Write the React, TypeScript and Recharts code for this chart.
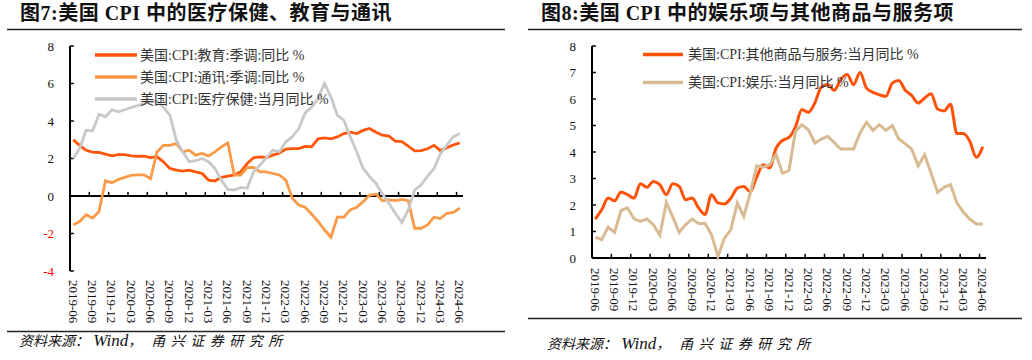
import React from 'react';
import { LineChart, Line, XAxis, YAxis, ReferenceLine } from 'recharts';

const months = [
  '2019-06', '2019-07', '2019-08', '2019-09', '2019-10', '2019-11', '2019-12',
  '2020-01', '2020-02', '2020-03', '2020-04', '2020-05', '2020-06', '2020-07', '2020-08', '2020-09', '2020-10', '2020-11', '2020-12',
  '2021-01', '2021-02', '2021-03', '2021-04', '2021-05', '2021-06', '2021-07', '2021-08', '2021-09', '2021-10', '2021-11', '2021-12',
  '2022-01', '2022-02', '2022-03', '2022-04', '2022-05', '2022-06', '2022-07', '2022-08', '2022-09', '2022-10', '2022-11', '2022-12',
  '2023-01', '2023-02', '2023-03', '2023-04', '2023-05', '2023-06', '2023-07', '2023-08', '2023-09', '2023-10', '2023-11', '2023-12',
  '2024-01', '2024-02', '2024-03', '2024-04', '2024-05', '2024-06',
];

// 图7 series
const eduYoY = [
  3.0, 2.7, 2.44, 2.34, 2.32, 2.23, 2.14, 2.21, 2.21, 2.14,
  2.12, 2.12, 2.05, 2.09, 1.82, 1.47, 1.38, 1.33, 1.38, 1.29,
  1.2, 0.85, 0.8, 1.0, 1.06, 1.12, 1.29, 1.73, 2.04, 2.09,
  2.05, 2.18, 2.3, 2.5, 2.53, 2.53, 2.65, 2.62, 3.05, 3.1,
  3.05, 3.15, 3.33, 3.4, 3.33, 3.5, 3.6, 3.4, 3.24, 3.19,
  2.93, 2.9, 2.66, 2.41, 2.42, 2.52, 2.7, 2.42, 2.58, 2.72,
  2.83,
];
const commYoY = [
  -1.54, -1.36, -1.0, -1.18, -0.83, 0.81, 0.71, 0.88, 0.99, 1.1,
  1.13, 1.13, 0.92, 2.35, 2.7, 2.7, 2.8, 2.35, 2.44, 2.18,
  2.27, 2.14, 2.35, 2.62, 2.83, 1.12, 1.12, 1.52, 1.52, 1.29,
  1.29, 1.2, 1.12, 0.85, -0.12, -0.48, -0.6, -0.96, -1.36, -1.8,
  -2.2, -1.13, -1.13, -0.74, -0.6, -0.3, 0.05, 0.1, -0.25, -0.21,
  -0.25, -0.18, -0.25, -1.72, -1.72, -1.54, -1.13, -1.2, -0.92, -0.88,
  -0.65,
];
const medYoY = [
  2.0, 2.54, 3.51, 3.47, 4.36, 4.22, 4.6, 4.49, 4.6, 4.72,
  4.82, 4.93, 5.0, 5.07, 4.75, 4.31, 2.98, 2.36, 1.83, 1.88,
  2.0, 1.83, 1.47, 0.85, 0.35, 0.32, 0.46, 0.41, 1.29, 1.65,
  2.05, 2.45, 2.36, 2.89, 3.16, 3.6, 4.43, 4.75, 5.2, 6.0,
  5.28, 4.31, 4.04, 3.16, 2.36, 1.47, 1.03, 0.67, 0.1, -0.39,
  -0.92, -1.42, -0.74, 0.32, 0.59, 1.06, 1.47, 2.27, 2.71, 3.16,
  3.33,
];

// 图8 series
const otherYoY = [
  1.47, 1.82, 2.26, 2.16, 2.49, 2.39, 2.26, 2.8, 2.67, 2.89,
  2.77, 2.39, 2.8, 2.7, 2.2, 2.26, 1.89, 1.64, 2.39, 2.08,
  2.04, 2.26, 2.64, 2.7, 2.5, 3.05, 3.52, 3.4, 4.15, 4.44,
  4.55, 4.95, 5.6, 5.5, 5.85, 6.45, 6.55, 6.33, 6.73, 6.92,
  6.54, 7.0, 6.41, 6.25, 6.16, 6.1, 6.6, 6.7, 6.33, 6.13,
  5.85, 6.04, 6.2, 5.62, 5.55, 5.8, 4.7, 4.7, 4.4, 3.8,
  4.2,
];
const recYoY = [
  0.79, 0.69, 1.17, 0.97, 1.8, 1.89, 1.48, 1.38, 1.47, 1.26,
  0.86, 2.1, 1.55, 0.97, 1.26, 1.47, 1.3, 1.3, 0.88, 0.06,
  0.75, 1.07, 2.08, 1.57, 2.45, 3.48, 3.43, 3.52, 3.9, 3.2,
  3.3, 4.78, 5.03, 4.84, 4.34, 4.49, 4.59, 4.36, 4.11, 4.11,
  4.11, 4.72, 5.12, 4.82, 5.03, 4.82, 5.0, 4.49, 4.31, 4.11,
  3.48, 3.9, 3.2, 2.48, 2.67, 2.77, 2.08, 1.72, 1.47, 1.28,
  1.28,
];

// tick labels (month index) and axis tick marks (between categories)
const labelIdx = [0, 3, 6, 9, 12, 15, 18, 21, 24, 27, 30, 33, 36, 39, 42, 45, 48, 51, 54, 57, 60];
const tickMarks = [2.5, 5.5, 8.5, 11.5, 14.5, 17.5, 20.5, 23.5, 26.5, 29.5, 32.5, 35.5, 38.5, 41.5, 44.5, 47.5, 50.5, 53.5, 56.5, 59.5];
const leftYTicks = [-4, -2, 0, 2, 4, 6, 8];
const rightYTicks = [0, 1, 2, 3, 4, 5, 6, 7, 8];

const leftSeries = [
  { key: 'edu', name: '美国:CPI:教育:季调:同比 %', color: '#FF560A' },
  { key: 'comm', name: '美国:CPI:通讯:季调:同比 %', color: '#FA9A48' },
  { key: 'med', name: '美国:CPI:医疗保健:当月同比 %', color: '#C8C8C8' },
];
const rightSeries = [
  { key: 'other', name: '美国:CPI:其他商品与服务:当月同比 %', color: '#FF5208' },
  { key: 'rec', name: '美国:CPI:娱乐:当月同比 %', color: '#D9BB93' },
];

const leftData = months.map((m, i) => ({ i, month: m, edu: eduYoY[i], comm: commYoY[i], med: medYoY[i] }));
const rightData = months.map((m, i) => ({ i, month: m, other: otherYoY[i], rec: recYoY[i] }));

const SERIF = '"Liberation Serif", "Times New Roman", "Noto Sans CJK SC", serif';

const XTick = (props: any) => {
  const { x, y, payload } = props;
  return (
    <text
      x={x}
      y={y}
      transform={`rotate(90 ${x} ${y})`}
      textAnchor="start"
      dominantBaseline="central"
      fontFamily={SERIF}
      fontSize={13}
      fill="#111"
    >
      {months[payload.value]}
    </text>
  );
};

const YTick = (props: any) => {
  const { x, y, payload } = props;
  const v = payload.value;
  return (
    <text x={x} y={y} textAnchor="end" dominantBaseline="central" fontFamily={SERIF} fontSize={13} fill={v < 0 ? '#FF0000' : '#111'}>
      {v}
    </text>
  );
};

const Legend2 = ({ items, lx1, lx2, tx, ys }: any) => (
  <g>
    {items.map((s: any, k: number) => (
      <g key={s.key}>
        <line x1={lx1} x2={lx2} y1={ys[k]} y2={ys[k]} stroke={s.color} strokeWidth={3.5} />
        <text x={tx} y={ys[k]} dominantBaseline="central" fontFamily={SERIF} fontSize={14} fill="#333">
          {s.name}
        </text>
      </g>
    ))}
  </g>
);

export default function App() {
  return (
    <div style={{ position: 'absolute', left: 0, top: 0, width: 1032, height: 360, background: '#fff', overflow: 'hidden' }}>
      <div style={{ position: 'absolute', left: 0, top: 0 }}>
        <LineChart width={516} height={360} data={leftData} margin={{ top: 46, right: 53, bottom: 29, left: 0 }}>
          <XAxis
            type="number"
            dataKey="i"
            domain={[-0.5, 60.5]}
            ticks={labelIdx}
            interval={0}
            tick={<XTick />}
            tickLine={false}
            axisLine={false}
            tickSize={0}
            tickMargin={9}
            height={60}
          />
          <YAxis
            type="number"
            domain={[-4, 8]}
            ticks={leftYTicks}
            interval={0}
            tick={<YTick />}
            tickLine={false}
            axisLine={{ stroke: '#000', strokeWidth: 2 }}
            tickSize={0}
            tickMargin={16}
            width={70}
          />
          <ReferenceLine y={0} stroke="#000" strokeWidth={2} />
          {tickMarks.map((t) => (
            <ReferenceLine key={'xm' + t} segment={[{ x: t, y: 0 }, { x: t, y: 0.22 }]} stroke="#000" strokeWidth={1.5} />
          ))}
          {leftYTicks.map((t) => (
            <ReferenceLine key={'ym' + t} segment={[{ x: -0.5, y: t }, { x: 0.1, y: t }]} stroke="#000" strokeWidth={1.5} />
          ))}
          {leftSeries.map((s) => (
            <Line key={s.key} dataKey={s.key} name={s.name} stroke={s.color} strokeWidth={2.8} dot={false} type="linear" isAnimationActive={false} />
          ))}
        </LineChart>
      </div>
      <div style={{ position: 'absolute', left: 516, top: 0 }}>
        <LineChart width={516} height={360} data={rightData} margin={{ top: 46, right: 46, bottom: 42, left: 0 }}>
          <XAxis
            type="number"
            dataKey="i"
            domain={[-0.5, 60.5]}
            ticks={labelIdx}
            interval={0}
            tick={<XTick />}
            tickLine={false}
            axisLine={false}
            tickSize={0}
            tickMargin={10}
            height={60}
          />
          <YAxis
            type="number"
            domain={[0, 8]}
            ticks={rightYTicks}
            interval={0}
            tick={<YTick />}
            tickLine={false}
            axisLine={{ stroke: '#000', strokeWidth: 2 }}
            tickSize={0}
            tickMargin={16}
            width={76}
          />
          <ReferenceLine y={0} stroke="#000" strokeWidth={2} />
          {tickMarks.map((t) => (
            <ReferenceLine key={'xm' + t} segment={[{ x: t, y: 0 }, { x: t, y: 0.16 }]} stroke="#000" strokeWidth={1.5} />
          ))}
          {rightYTicks.map((t) => (
            <ReferenceLine key={'ym' + t} segment={[{ x: -0.5, y: t }, { x: 0.1, y: t }]} stroke="#000" strokeWidth={1.5} />
          ))}
          <Line dataKey="other" name={rightSeries[0].name} stroke={rightSeries[0].color} strokeWidth={3} dot={false} type="monotone" isAnimationActive={false} />
          <Line dataKey="rec" name={rightSeries[1].name} stroke={rightSeries[1].color} strokeWidth={3} dot={false} type="linear" isAnimationActive={false} />
        </LineChart>
      </div>
      <svg width={1032} height={360} style={{ position: 'absolute', left: 0, top: 0, pointerEvents: 'none' }}>
        <text x={20} y={20} fontFamily={SERIF} fontWeight="bold" fontSize={20} letterSpacing={0.5} fill="#111">
          图7:美国 CPI 中的医疗保健、教育与通讯
        </text>
        <line x1={7} x2={505} y1={29.5} y2={29.5} stroke="#222" strokeWidth={1.3} />
        <text x={541} y={20} fontFamily={SERIF} fontWeight="bold" fontSize={20} letterSpacing={0.5} fill="#111">
          图8:美国 CPI 中的娱乐项与其他商品与服务项
        </text>
        <line x1={528} x2={1022} y1={29.5} y2={29.5} stroke="#222" strokeWidth={1.3} />

        <Legend2 items={leftSeries} lx1={95} lx2={137} tx={140} ys={[55, 77, 99]} />
        <Legend2 items={rightSeries} lx1={643} lx2={683} tx={688} ys={[54.5, 82.5]} />

        <line x1={7} x2={505} y1={331.5} y2={331.5} stroke="#222" strokeWidth={1.3} />
        <text x={19} y={346} fontFamily={SERIF} fontStyle="italic" fontSize={14} fill="#111">
          资料来源：<tspan fontSize={17}> Wind</tspan>，<tspan letterSpacing={5.5}> 甬兴证券研究所</tspan>
        </text>
        <line x1={528} x2={1022} y1={318.5} y2={318.5} stroke="#222" strokeWidth={1.3} />
        <text x={547} y={349} fontFamily={SERIF} fontStyle="italic" fontSize={14} fill="#111">
          资料来源：<tspan fontSize={17}> Wind</tspan>，<tspan letterSpacing={5.5}> 甬兴证券研究所</tspan>
        </text>
      </svg>
    </div>
  );
}
